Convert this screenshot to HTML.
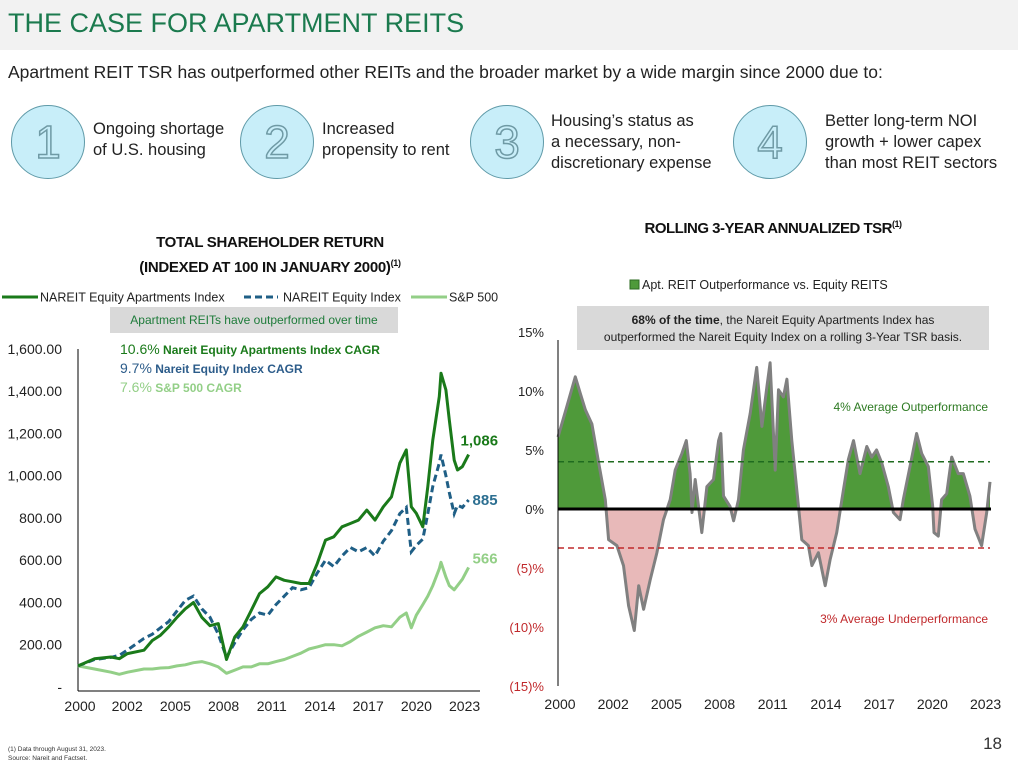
<!DOCTYPE html>
<html><head><meta charset="utf-8"><style>
body{margin:0;width:1018px;height:768px;background:#fff;font-family:"Liberation Sans",sans-serif;position:relative;overflow:hidden}
.abs{position:absolute}
.circ{position:absolute;width:72px;height:72px;border-radius:50%;background:#c8eef9;border:1.5px solid #5f9aa8;text-align:center;line-height:72px;font-size:46px;color:#c8eef9;-webkit-text-stroke:1.5px #6f9aa5;font-family:"Liberation Sans",sans-serif}
.ctext{position:absolute;font-size:16.5px;line-height:21px;color:#222}
svg text{font-family:"Liberation Sans",sans-serif}
</style></head><body>
<div class="abs" style="left:0;top:0;width:1018px;height:50px;background:#f2f2f2"></div>
<div class="abs" style="left:8px;top:8px;font-size:27px;color:#1b7a4e">THE CASE FOR APARTMENT REITS</div>
<div class="abs" style="left:8px;top:62px;font-size:17.5px;color:#222">Apartment REIT TSR has outperformed other REITs and the broader market by a wide margin since 2000 due to:</div>

<div class="circ" style="left:11px;top:105px">1</div>
<div class="ctext" style="left:93px;top:119px">Ongoing shortage<br>of U.S. housing</div>
<div class="circ" style="left:240px;top:105px">2</div>
<div class="ctext" style="left:322px;top:119px">Increased<br>propensity to rent</div>
<div class="circ" style="left:470px;top:105px">3</div>
<div class="ctext" style="left:551px;top:111px">Housing’s status as<br>a necessary, non-<br>discretionary expense</div>
<div class="circ" style="left:733px;top:105px">4</div>
<div class="ctext" style="left:825px;top:111px">Better long-term NOI<br>growth + lower capex<br>than most REIT sectors</div>

<div class="abs" style="left:70px;top:232px;width:400px;text-align:center;font-size:15px;font-weight:bold;line-height:21px;color:#111;letter-spacing:-0.3px">TOTAL SHAREHOLDER RETURN<br>(INDEXED AT 100 IN JANUARY 2000)<sup style="font-size:9px">(1)</sup></div>
<div class="abs" style="left:560px;top:219px;width:426px;text-align:center;font-size:15px;font-weight:bold;color:#111;letter-spacing:-0.5px">ROLLING 3-YEAR ANNUALIZED TSR<sup style="font-size:9px">(1)</sup></div>

<svg class="abs" style="left:0;top:0" width="1018" height="768">
<g font-size="12.5" fill="#222">
<line x1="2" y1="297" x2="38" y2="297" stroke="#1a7a1a" stroke-width="3"/>
<text x="40" y="301.5">NAREIT Equity Apartments Index</text>
<line x1="244" y1="297" x2="278" y2="297" stroke="#1f5f86" stroke-width="3" stroke-dasharray="7,4"/>
<text x="283" y="301.5">NAREIT Equity Index</text>
<line x1="411" y1="297" x2="447" y2="297" stroke="#93cf87" stroke-width="3"/>
<text x="449" y="301.5">S&amp;P 500</text>
</g>
<rect x="110" y="307" width="288" height="26" fill="#d9d9d9"/>
<text x="254" y="324" text-anchor="middle" font-size="12" fill="#1e7b3a">Apartment REITs have outperformed over time</text>
<g font-weight="bold" font-size="12">
<text x="120" y="354" fill="#1a7a1a"><tspan font-size="14" font-weight="normal">10.6%</tspan> Nareit Equity Apartments Index CAGR</text>
<text x="120" y="373" fill="#2c5c8a"><tspan font-size="14" font-weight="normal">9.7%</tspan> Nareit Equity Index CAGR</text>
<text x="120" y="392" fill="#93cf87"><tspan font-size="14" font-weight="normal">7.6%</tspan> S&amp;P 500 CAGR</text>
</g>
<g id="left"></g>
<rect x="630" y="280" width="9" height="9" fill="#4f9a3a" stroke="#2d6b22"/>
<text x="642" y="289" font-size="12.5" fill="#222">Apt. REIT Outperformance vs. Equity REITS</text>
<rect x="577" y="306" width="412" height="44" fill="#d9d9d9"/>
<text x="783" y="324" text-anchor="middle" font-size="12" fill="#222"><tspan font-weight="bold">68% of the time</tspan>, the Nareit Equity Apartments Index has</text>
<text x="783" y="341" text-anchor="middle" font-size="12" fill="#222">outperformed the Nareit Equity Index on a rolling 3-Year TSR basis.</text>
<g id="right"></g>
<text x="988" y="411" text-anchor="end" font-size="12" fill="#2d7a22">4% Average Outperformance</text>
<text x="988" y="623" text-anchor="end" font-size="12" fill="#c0282b">3% Average Underperformance</text>
<text x="1002" y="749" text-anchor="end" font-size="17" fill="#333">18</text>
<text x="8" y="751" font-size="6.5" fill="#333">(1)   Data through August 31, 2023.</text>
<text x="8" y="760" font-size="6.5" fill="#333">Source: Nareit and Factset.</text>
</svg>

<script>
// ---- left chart data ----
const tYears=[0,1,2,2.5,3,4,4.5,5,5.5,6,6.5,7,7.5,8,8.5,9,9.5,10,10.5,11,11.5,12,12.5,13,13.5,14,14.5,15,15.5,16,16.5,17,17.5,18,18.5,19,19.5,19.9,20.2,20.5,20.9,21.2,21.5,21.9,22.0,22.3,22.5,22.8,23.0,23.3,23.67];
const aptIndex=[100,134,142,134,158,174,220,245,285,330,370,400,330,290,300,130,237,285,363,442,474,521,505,498,490,490,585,695,711,758,774,790,837,790,853,900,1059,1122,853,822,758,948,1169,1375,1485,1406,1264,1074,1027,1043,1100];
const eqIndex=[100,130,140,150,175,230,250,280,310,360,410,430,370,330,250,140,210,270,320,350,340,390,430,470,460,470,540,600,570,620,660,640,660,620,690,740,820,850,640,670,700,820,950,1060,1100,1000,920,820,860,850,885];
const spIndex=[100,85,70,60,70,85,85,90,92,100,105,115,120,110,95,65,80,95,95,110,110,120,130,145,160,180,190,200,200,195,215,240,260,280,290,285,330,350,280,340,390,430,480,560,590,520,480,460,480,510,566];
const leftYTicks=[0,200,400,600,800,1000,1200,1400,1600];
const leftYLabels=["-","200.00","400.00","600.00","800.00","1,000.00","1,200.00","1,400.00","1,600.00"];
const xTickLabels=["2000","2002","2005","2008","2011","2014","2017","2020","2023"];
const endLabels=["1,086","885","566"];
// ---- right chart data ----
const rYears=[0,.49,.95,1.22,1.5,1.86,2.23,2.59,2.77,3.23,3.59,3.87,4.18,4.42,4.69,5.05,5.42,5.78,6.15,6.42,6.79,7.03,7.24,7.34,7.52,7.88,8.16,8.52,8.8,8.92,9.07,9.43,9.62,9.89,10.16,10.53,10.89,11.17,11.44,11.62,11.9,12.08,12.35,12.54,12.81,13.18,13.36,13.72,13.91,14.27,14.64,14.91,15.27,15.64,15.91,16.19,16.55,16.92,17.19,17.46,17.74,18.1,18.38,18.74,18.92,19.29,19.65,19.93,20.29,20.53,20.6,20.84,21.02,21.3,21.57,21.93,22.21,22.57,22.85,23.21,23.49,23.67];
const outperf=[6.1,8.7,11.2,9.8,8.4,7.2,3.9,0.8,-2.6,-3.1,-4.8,-8.2,-10.3,-6.5,-8.5,-6.0,-3.7,-0.9,0.8,3.3,4.7,5.8,3.0,-0.3,2.5,-2.0,1.9,2.5,5.8,6.4,1.1,0.2,-1.0,0.8,5.0,8.1,12.0,7.0,10.3,12.4,3.3,10.1,9.5,11.0,5.8,0.2,-2.6,-3.1,-4.8,-3.7,-6.5,-4.3,-2.0,1.6,4.2,5.8,3.0,5.3,4.4,5.0,3.9,1.9,-0.3,-0.9,0.8,3.6,6.4,4.7,3.6,0.2,-2.0,-2.3,0.8,1.3,4.4,3.0,3.0,1.1,-1.7,-3.1,-0.3,2.3];
const rightYTicks=[-15,-10,-5,0,5,10,15];
const rightYLabels=["(15)%","(10)%","(5)%","0%","5%","10%","15%"];
const avgOut=[4];
const avgUnder=[-3.3];

const NS="http://www.w3.org/2000/svg";
function mk(tag,attrs,parent,txt){const e=document.createElementNS(NS,tag);for(const k in attrs)e.setAttribute(k,attrs[k]);if(txt!==undefined)e.textContent=txt;parent.appendChild(e);return e;}
function pathOf(xs,vs,fx,fy){return xs.map((x,i)=>(i?'L':'M')+fx(x).toFixed(1)+','+fy(vs[i]).toFixed(1)).join('');}

const lx=y=>78+y*16.5;
const ly=v=>687-v*0.2113;
const ltick=i=>80+i*48.2+(i>0?-1:0);
const L=document.getElementById('left');
let e;
e=mk('line',{x1:78,y1:349,x2:78,y2:691,stroke:'#000','stroke-width':1},L);

e=mk('line',{x1:78,y1:691,x2:480,y2:691,stroke:'#000','stroke-width':1},L);

leftYTicks.forEach((v,i)=>{
  e=mk('text',{x:62,y:ly(v)+5,'text-anchor':'end','font-size':14,fill:'#222'},L,leftYLabels[i]);
  
});
xTickLabels.forEach((lab,i)=>{
  e=mk('text',{x:ltick(i),y:711,'text-anchor':'middle','font-size':14,fill:'#222'},L,lab);
  
});
e=mk('path',{d:pathOf(tYears,spIndex,lx,ly),fill:'none',stroke:'#93cf87','stroke-width':3,'stroke-linejoin':'round'},L);

e=mk('path',{d:pathOf(tYears,eqIndex,lx,ly),fill:'none',stroke:'#1f5f86','stroke-width':3,'stroke-dasharray':'7,4'},L);

e=mk('path',{d:pathOf(tYears,aptIndex,lx,ly),fill:'none',stroke:'#1a7a1a','stroke-width':3,'stroke-linejoin':'round'},L);

const last=tYears.length-1;
e=mk('text',{x:lx(tYears[last])-8,y:ly(aptIndex[last])-9,'font-size':15,'font-weight':'bold',fill:'#1a7a1a'},L,endLabels[0]);

e=mk('text',{x:lx(tYears[last])+4,y:ly(eqIndex[last])+5,'font-size':15,'font-weight':'bold',fill:'#2c6f91'},L,endLabels[1]);

e=mk('text',{x:lx(tYears[last])+4,y:ly(spIndex[last])-4,'font-size':15,'font-weight':'bold',fill:'#93cf87'},L,endLabels[2]);


const rx=y=>558+y*18.25;
const ry=v=>509-v*11.8;
const rtick=i=>560+i*53.2;
const R=document.getElementById('right');
const defs=mk('defs',{},R);
const c1=mk('clipPath',{id:'above'},defs);mk('rect',{x:550,y:300,width:460,height:ry(0)-300},c1);
const c2=mk('clipPath',{id:'below'},defs);mk('rect',{x:550,y:ry(0),width:460,height:250},c2);
const area='M'+rx(rYears[0])+','+ry(0)+pathOf(rYears,outperf,rx,ry).replace('M','L')+'L'+rx(rYears[rYears.length-1])+','+ry(0)+'Z';
e=mk('path',{d:area,fill:'#4f9a3a','clip-path':'url(#above)'},R);

e=mk('path',{d:area,fill:'#e8b9b9','clip-path':'url(#below)'},R);

e=mk('path',{d:pathOf(rYears,outperf,rx,ry),fill:'none',stroke:'#808080','stroke-width':3,'stroke-linejoin':'round'},R);

e=mk('line',{x1:558,y1:ry(0),x2:991,y2:ry(0),stroke:'#000','stroke-width':3},R);

e=mk('line',{x1:558,y1:ry(avgOut[0]),x2:990,y2:ry(avgOut[0]),stroke:'#1f6b1f','stroke-width':1.5,'stroke-dasharray':'6,4'},R);

e=mk('line',{x1:558,y1:ry(avgUnder[0]),x2:990,y2:ry(avgUnder[0]),stroke:'#c0282b','stroke-width':1.5,'stroke-dasharray':'6,4'},R);

e=mk('line',{x1:558,y1:340,x2:558,y2:686,stroke:'#000','stroke-width':1},R);

rightYTicks.forEach((v,i)=>{
  e=mk('text',{x:544,y:ry(v)+5,'text-anchor':'end','font-size':13,fill:v<0?'#c0282b':'#222'},R,rightYLabels[i]);
  
});
xTickLabels.forEach((lab,i)=>{
  e=mk('text',{x:rtick(i),y:709,'text-anchor':'middle','font-size':14,fill:'#222'},R,lab);
  
});
</script>
</body></html>
